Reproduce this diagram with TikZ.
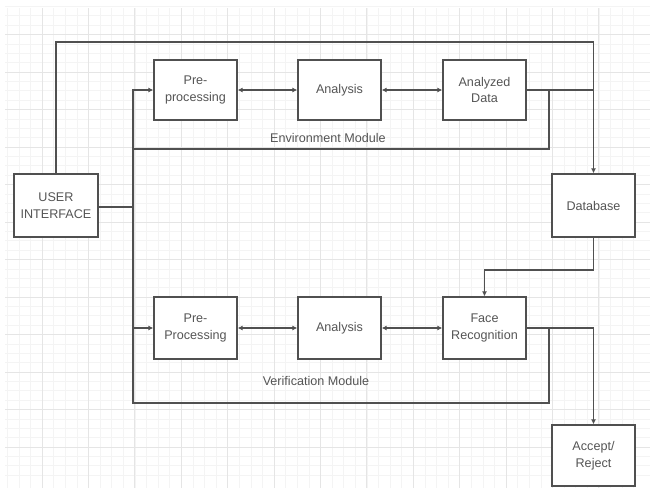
\documentclass[tikz,border=0pt]{standalone}
\usepackage{fontspec}
\setmainfont{Liberation Sans}
\usetikzlibrary{arrows.meta}
\definecolor{ln}{HTML}{505050}
\definecolor{tx}{HTML}{555555}
\begin{document}
\begin{tikzpicture}[x=1pt,y=-1pt,
  box/.style={draw=ln,line width=1.3pt,fill=white,minimum width=83pt,minimum height=60pt,inner sep=1pt,align=center,text=tx,font=\fontsize{12.6}{16.5}\selectfont},
  conn/.style={draw=ln,line width=1.2pt},
  arr/.style={conn,-{Latex[length=5pt,width=5pt]}},
  barr/.style={conn,{Latex[length=5pt,width=5pt]}-{Latex[length=5pt,width=5pt]}},
  lbl/.style={text=tx,font=\fontsize{12.6}{16.5}\selectfont},
  gminor/.style={draw=gray!9,line width=0.6pt},
  gmajor/.style={draw=gray!20,line width=0.8pt}]
\useasboundingbox (0,0) rectangle (655,490);
\fill[white] (0,0) rectangle (655,490);
% grid
\foreach \i in {1,...,55} {\draw[gminor] ({-4.4+\i*11.6},8) -- ({-4.4+\i*11.6},488);}
\foreach \i in {1,...,51} {\draw[gminor] (5,{-3+\i*9.375}) -- (650,{-3+\i*9.375});}
\foreach \i in {1,...,13} {\draw[gmajor] ({-4.4+\i*46.4},8) -- ({-4.4+\i*46.4},488);}
\foreach \i in {1,...,12} {\draw[gmajor] (5,{-3+\i*37.5}) -- (650,{-3+\i*37.5});}
% nodes
\node[box,minimum width=84pt,minimum height=63pt] (ui) at (56,205.5) {USER\\INTERFACE};
\node[box] (pe) at (195.5,90) {Pre-\\processing};
\node[box] (ae) at (339.5,90) {Analysis};
\node[box] (ad) at (484.5,90) {Analyzed\\Data};
\node[box,minimum height=63pt] (db) at (593.5,205.5) {Database};
\node[box,minimum height=62pt] (pv) at (195.5,328) {Pre-\\Processing};
\node[box,minimum height=62pt] (av) at (339.5,328) {Analysis};
\node[box,minimum height=62pt] (fr) at (484.5,328) {Face\\Recognition};
\node[box,minimum height=61pt] (ar) at (593.5,455.5) {Accept/\\Reject};
\node[lbl] (envl) at (328,138) {Environment Module};
\node[lbl] (verl) at (316,381) {Verification Module};
% coordinates
\coordinate (tl) at (56,42);
\coordinate (tr) at (593.5,42);
\coordinate (jui) at (133,207);
\coordinate (jpe) at (133,90);
\coordinate (jpv) at (133,328);
\coordinate (eb) at (133,149);
\coordinate (er) at (549,149);
\coordinate (vb) at (133,403);
\coordinate (vr) at (549,403);
\coordinate (dbj) at (593.5,270);
\coordinate (frj) at (484.5,270);
% connectors
\draw[arr] (ui.north) -- (tl) -- (tr) -- (db.north);
\draw[conn] (ad.east) -- (593.5,90);
\draw[conn] (ui.east |- jui) -- (jui);
\draw[arr] (jui) -- (jpe) -- (pe.west);
\draw[arr] (jui) -- (jpv) -- (pv.west);
\draw[barr] (pe.east) -- (ae.west);
\draw[barr] (ae.east) -- (ad.west);
\draw[barr] (pv.east) -- (av.west);
\draw[barr] (av.east) -- (fr.west);
\draw[conn] (ad.east) -- (ad.east -| er) -- (er) -- (eb);
\draw[arr] (db.south) -- (dbj) -- (frj) -- (fr.north);
\draw[arr] (fr.east) -- (fr.east -| ar.north) -- (ar.north);
\draw[conn] (fr.east) -- (fr.east -| vr) -- (vr) -- (vb) -- (jpv);
\end{tikzpicture}
\end{document}
